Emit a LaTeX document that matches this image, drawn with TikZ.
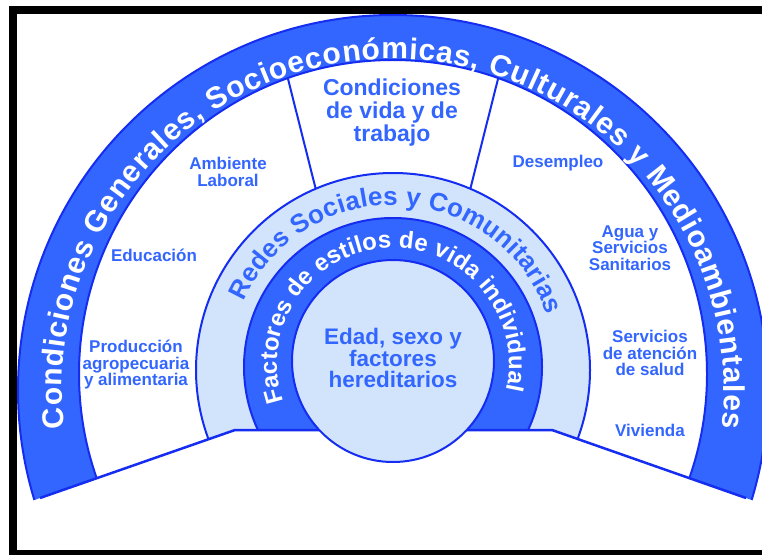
\documentclass[tikz,border=0pt]{standalone}
\usepackage{fontspec}
\setmainfont{Liberation Sans}
\usetikzlibrary{decorations.text}
\definecolor{bandblue}{RGB}{51,102,255}
\definecolor{edgeblue}{RGB}{20,45,240}
\definecolor{lightring}{RGB}{210,228,252}
\definecolor{labelblue}{RGB}{51,102,255}
\begin{document}
\begin{tikzpicture}[x=1pt,y=1pt,
  lbl/.style={text=labelblue, font=\bfseries\fontsize{17}{16.5}\selectfont, align=center, inner sep=0pt},
  biglbl/.style={text=labelblue, font=\bfseries\fontsize{23}{23}\selectfont, align=center, inner sep=0pt},
  edge/.style={draw=edgeblue, line width=2pt}]
\useasboundingbox (0,0) rectangle (762,555);
\fill[white] (0,0) rectangle (762,555);
% frame
\fill[black] (9,541) rectangle (762,549);
\fill[black] (9,0) rectangle (17,549);
\fill[black] (9,0) rectangle (762,5);
% key points
\coordinate (BL) at (40,57);
\coordinate (HL) at (235,125);
\coordinate (HR) at (552,125);
\coordinate (BR) at (746,57);
\coordinate (DLa) at (284.5,490);
\coordinate (DLb) at (318.5,355);
\coordinate (DRa) at (501.5,490);
\coordinate (DRb) at (467.5,355);
\begin{scope}
  \clip (0,43) -- (HL) -- (HR) -- (762,51.4) -- (762,555) -- (0,555) -- cycle;
  \filldraw[fill=bandblue, edge] (393,165) circle[radius=375];
  \filldraw[fill=white, edge] (393,181) circle[radius=314];
  \begin{scope}
    \clip (393,181) circle[radius=314];
    \draw[edge] (DLa) -- (DLb);
    \draw[edge] (DRa) -- (DRb);
  \end{scope}
  \filldraw[fill=lightring, edge] (393,185) circle[radius=197];
  \filldraw[fill=bandblue, edge] (393,188) circle[radius=149];
\end{scope}
\draw[edge, line width=2.5pt] (BL) -- (HL) -- (HR) -- (BR);
\filldraw[fill=lightring, edge] (393,194) circle[radius=101];
% curved texts
\path[decorate, decoration={text along path, text align={fit to path}, text color=white,
  text={|\bfseries\fontsize{30}{30}\selectfont|Condiciones Generales, Socioeconómicas, Culturales y Medioambientales}}]
  ([shift={(393,165)}]186.6:331) arc[start angle=186.6, end angle=-6.6, radius=331];
\path[decorate, decoration={text along path, text align={fit to path}, text color=labelblue,
  text={|\bfseries\fontsize{26}{26}\selectfont|Redes Sociales y Comunitarias}}]
  ([shift={(393,187)}]156:163) arc[start angle=156, end angle=19, radius=163];
\path[decorate, decoration={text along path, text align={fit to path}, text color=white,
  text={|\bfseries\fontsize{24}{24}\selectfont|Factores de estilos de vida individual}}]
  ([shift={(393,191)}]199:116) arc[start angle=199, end angle=-13, radius=116];
% labels
\node[biglbl] (cvt) at (392,442) {Condiciones\\de vida y de\\trabajo};
\node[biglbl, font=\bfseries\fontsize{22.5}{21.5}\selectfont] (eds) at (393,197) {Edad, sexo y\\factores\\hereditarios};
\node[lbl] (amb) at (228,383) {Ambiente\\Laboral};
\node[lbl] (edu) at (154,300) {Educación};
\node[lbl] (pro) at (136,190) {Producción\\agropecuaria\\y alimentaria};
\node[lbl] (des) at (558,392) {Desempleo};
\node[lbl] (agu) at (630,307) {Agua y\\Servicios\\Sanitarios};
\node[lbl] (ser) at (650,202) {Servicios\\de atención\\de salud};
\node[lbl] (viv) at (650,125) {Vivienda};
\end{tikzpicture}
\end{document}
